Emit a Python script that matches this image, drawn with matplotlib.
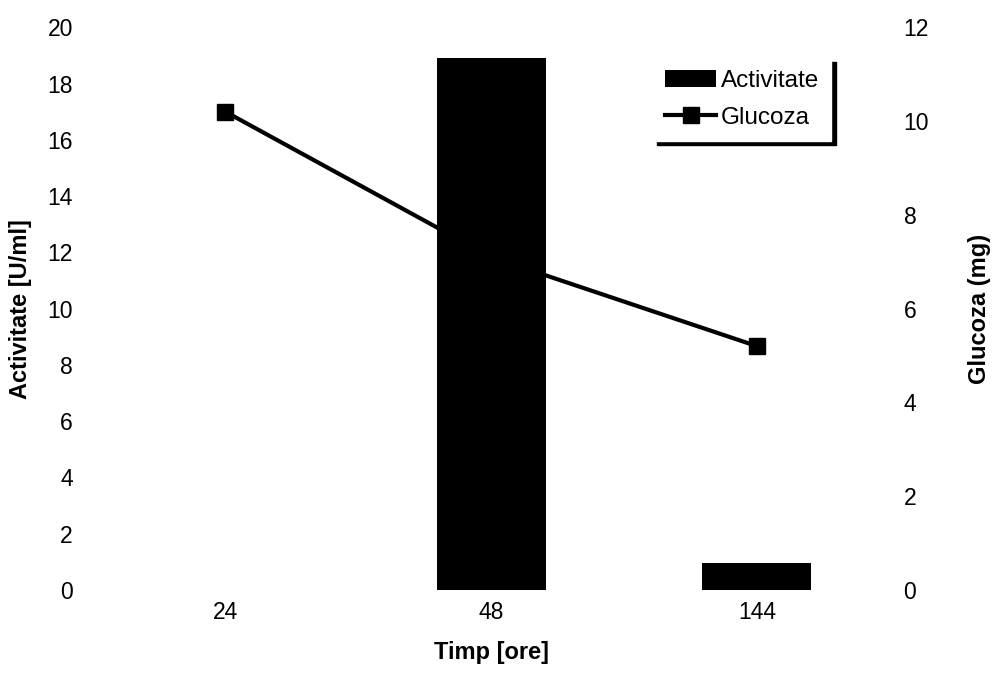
import matplotlib.pyplot as plt
import numpy as np

plt.rcParams['font.family'] = ['Liberation Sans', 'DejaVu Sans']

timp = ['24', '48', '144']
activitate = [0.0, 18.9, 0.95]
glucoza = [10.2, 7.1, 5.2]

fig = plt.figure(figsize=(9.93, 6.82), dpi=100)
ax = fig.add_axes([0.093, 0.135, 0.803, 0.825])
ax2 = ax.twinx()

x = np.arange(len(timp))

# line on the secondary axis, drawn behind the bars
ax2.plot(x, glucoza, color='black', lw=3, marker='s', markersize=12, label='Glucoza')
ax.bar(x, activitate, width=0.41, color='black', label='Activitate')

ax.set_zorder(ax2.get_zorder() + 1)
ax.patch.set_visible(False)

ax.set_xlim(-0.5, len(timp) - 0.5)
ax.set_ylim(0, 20)
ax.set_yticks(np.arange(0, 21, 2))
ax2.set_ylim(0, 12)
ax2.set_yticks(np.arange(0, 13, 2))
ax.set_xticks(x)
ax.set_xticklabels(timp)

for a in (ax, ax2):
    for s in a.spines.values():
        s.set_visible(False)
    a.tick_params(length=0, labelsize=16.5)
ax.tick_params(axis='y', pad=14)
ax.tick_params(axis='x', pad=8)
ax2.tick_params(axis='y', pad=10)

ax.set_xlabel('Timp [ore]', fontsize=17, fontweight='bold', labelpad=12)
ax.set_ylabel('Activitate [U/ml]', fontsize=17, fontweight='bold', labelpad=11)
ax2.set_ylabel('Glucoza (mg)', fontsize=17, fontweight='bold', labelpad=28)

h1, l1 = ax.get_legend_handles_labels()
h2, l2 = ax2.get_legend_handles_labels()
leg = ax.legend(h1 + h2, l1 + l2, loc='upper left', bbox_to_anchor=(0.703, 0.945),
                fontsize=17.5, fancybox=False, edgecolor='white', framealpha=1,
                shadow={'color': 'black', 'alpha': 1, 'ox': 3, 'oy': -3},
                handlelength=2.1, handletextpad=0.2, borderpad=0.5, labelspacing=0.6,
                borderaxespad=0)

fig.savefig('out.png', dpi=100)
